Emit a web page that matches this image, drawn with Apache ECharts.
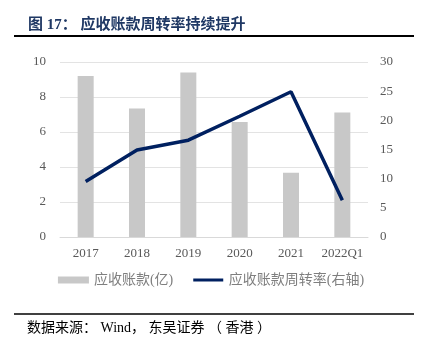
<!DOCTYPE html>
<html>
<head>
<meta charset="utf-8">
<script src="https://cdn.jsdelivr.net/npm/echarts@6/dist/echarts.min.js"></script>
<style>
  html, body { margin: 0; padding: 0; background: #fff; }
  #main { width: 422px; height: 351px; }
</style>
</head>
<body>
<div id="main"></div>
<script>
var categories = ['2017', '2018', '2019', '2020', '2021', '2022Q1'];
var receivables = [9.2, 7.35, 9.4, 6.57, 3.67, 7.12];
var turnover = [9.5, 14.9, 16.6, 20.7, 24.9, 6.3];
var leftTicks = [0, 10, 2];
var rightTicks = [0, 30, 5];

var fontFamily = '"Liberation Serif", "Noto Sans CJK SC", serif';
var myChart = echarts.init(document.getElementById('main'));

var option = {
    backgroundColor: '#fff',
    animation: false,
    title: [
        {
            text: '图 17： 应收账款周转率持续提升',
            left: 23, top: 13,
            textStyle: { fontSize: 15, fontWeight: 'bold', color: '#1f3864', fontFamily: fontFamily }
        },
        {
            text: '数据来源： Wind， 东吴证券 （ 香港 ）',
            left: 22, top: 316,
            textStyle: { fontSize: 14, fontWeight: 'normal', color: '#000', fontFamily: fontFamily }
        }
    ],
    graphic: [
        { type: 'line', shape: { x1: 14, y1: 36, x2: 414, y2: 36 }, style: { stroke: '#000', lineWidth: 2 } },
        { type: 'line', shape: { x1: 14, y1: 314, x2: 414, y2: 314 }, style: { stroke: '#000', lineWidth: 1.5 } }
    ],
    legend: {
        left: 'center', top: 268,
        itemGap: 20,
        itemWidth: 31, itemHeight: 7,
        textStyle: { fontSize: 14, color: '#7f7f7f', fontFamily: fontFamily },
        data: [
            { name: '应收账款(亿)', icon: 'rect' },
            {
                name: '应收账款周转率(右轴)',
                icon: 'path://M0,0 M0,2 L30,2 L30,5 L0,5 Z M0,7',
                itemStyle: { color: '#002060' }
            }
        ]
    },
    grid: { left: 60, right: 54, top: 62, bottom: 114 },
    xAxis: {
        type: 'category',
        data: categories,
        axisLine: { show: true, lineStyle: { color: '#d9d9d9' } },
        axisTick: { show: false },
        axisLabel: { color: '#595959', fontSize: 13, fontFamily: fontFamily, margin: 10, interval: 0 }
    },
    yAxis: [
        {
            type: 'value',
            min: leftTicks[0], max: leftTicks[1], interval: leftTicks[2],
            axisLine: { show: false }, axisTick: { show: false },
            splitLine: { lineStyle: { color: '#e3e3e3' } },
            axisLabel: { color: '#595959', fontSize: 13, fontFamily: fontFamily, margin: 14 }
        },
        {
            type: 'value',
            min: rightTicks[0], max: rightTicks[1], interval: rightTicks[2],
            axisLine: { show: false }, axisTick: { show: false },
            splitLine: { show: false },
            axisLabel: { color: '#595959', fontSize: 13, fontFamily: fontFamily, margin: 12 }
        }
    ],
    series: [
        {
            name: '应收账款(亿)',
            type: 'bar',
            barWidth: 16,
            itemStyle: { color: '#c8c8c8' },
            data: receivables
        },
        {
            name: '应收账款周转率(右轴)',
            type: 'line',
            yAxisIndex: 1,
            symbol: 'none',
            lineStyle: { color: '#002060', width: 3.5 },
            itemStyle: { color: '#002060' },
            data: turnover
        }
    ]
};
myChart.setOption(option);
</script>
</body>
</html>
